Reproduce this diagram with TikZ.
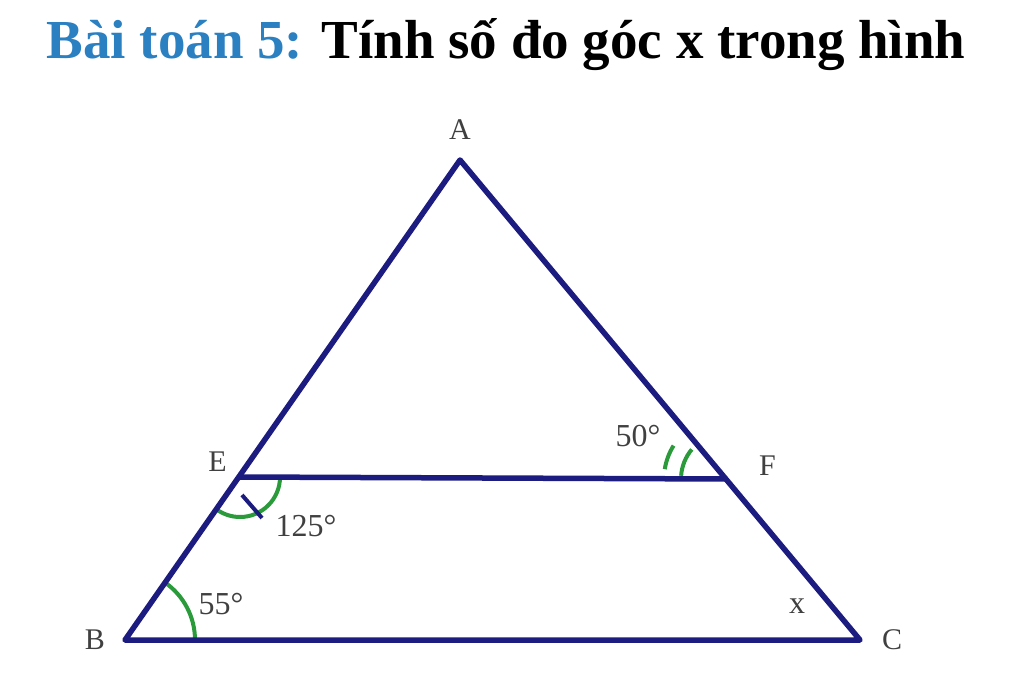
\documentclass[tikz,border=0pt]{standalone}
\usepackage{fontspec}
\setmainfont{Liberation Serif}
\usetikzlibrary{positioning}
\definecolor{edgeblue}{HTML}{1B1B80}
\definecolor{arcgreen}{HTML}{2A9A3A}
\definecolor{titleblue}{HTML}{2B80C2}

\begin{document}
\begin{tikzpicture}[x=1pt, y=-1pt,
  side/.style={edgeblue, line width=5.5pt, line join=round},
  anglemark/.style={arcgreen, line width=4pt},
  pt/.style={font=\fontsize{30}{34}\selectfont, text=black!75, inner sep=0pt},
  ang/.style={font=\fontsize{32}{36}\selectfont, text=black!75, inner sep=0pt}]

  \useasboundingbox (0,0) rectangle (1024,687);

  % Title
  \node[inner sep=0pt, anchor=base, font=\fontsize{55}{60}\selectfont\bfseries] (T) at (506,59)
    {\textcolor{titleblue}{Bài toán 5:} Tính số đo góc x trong hình};

  % Vertices
  \coordinate (A) at (460,160);
  \coordinate (B) at (125,640);
  \coordinate (C) at (860,640);
  \coordinate (E) at (240,477);
  \coordinate (F) at (727,479);

  % Labels
  \node[pt, above=20pt of A] (LA) {A};
  \node[pt, left=20pt of B] (LB) {B};
  \node[pt, right=22pt of C] (LC) {C};
  \node[pt, above left=5pt and 13pt of E] (LE) {E};
  \node[pt, right=32pt of F, yshift=13pt] (LF) {F};

  % Angle marks
  \draw[anglemark] ([shift={(0:70)}]B) arc[start angle=0, end angle=-55, radius=70];
  \draw[anglemark] ([shift={(0:40)}]E) arc[start angle=0, end angle=125, radius=40];
  \draw[edgeblue, line width=4pt] ([shift={(2,18)}]E) -- ([shift={(22,41)}]E);
  \draw[anglemark] ([shift={(-140:46)}]F) arc[start angle=-140, end angle=-176, radius=46];
  \draw[anglemark] ([shift={(-148:63)}]F) arc[start angle=-148, end angle=-171, radius=63];

  % Sides
  \draw[side] (A) -- (B) -- (C) -- cycle;
  \draw[side] (E) -- (F);

  % Angle values
  \node[ang] (a55) at (221,604) {55°};
  \node[ang] (a125) at (306,526) {125°};
  \node[ang] (a50) at (638,436) {50°};
  \node[ang] (ax) at (797,606) {x};

\end{tikzpicture}
\end{document}
